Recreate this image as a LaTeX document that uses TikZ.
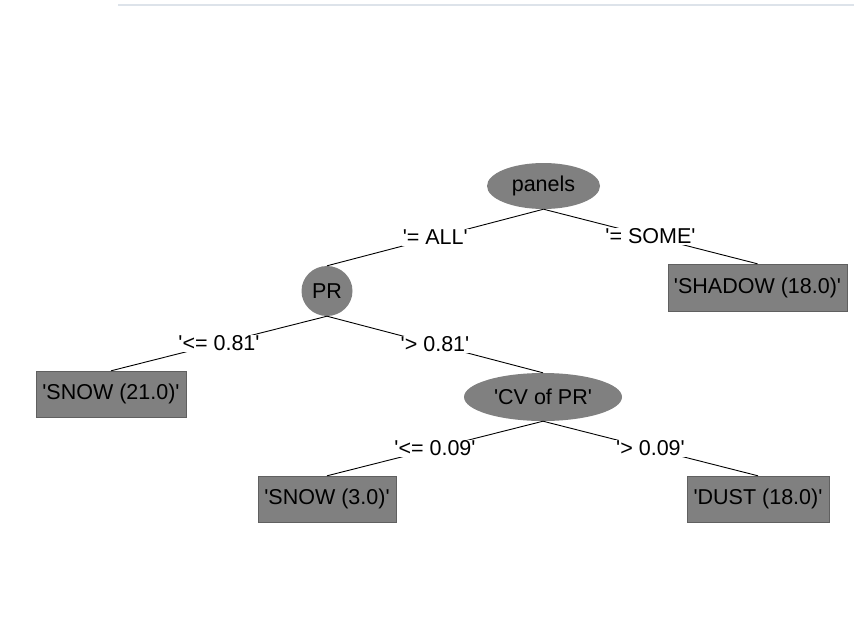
\documentclass[tikz,border=0pt]{standalone}
\usepackage{fontspec}
\setmainfont{Liberation Sans}
\usetikzlibrary{shapes.geometric}
\definecolor{nodegray}{RGB}{128,128,128}
\definecolor{rulegray}{RGB}{221,227,234}
\newcommand{\sq}{\textquotesingle}

\tikzset{
    split/.style={ellipse, fill=nodegray, inner sep=0pt},
    leaf/.style={rectangle, fill=nodegray, draw=nodegray!75!black, inner sep=0pt},
    branch/.style={fill=white, inner sep=1pt},
    edge/.style={black, line width=0.9pt}
}

\begin{document}
\begin{tikzpicture}[x=1pt, y=-1pt, font=\fontsize{21.5}{25}\selectfont]
                \useasboundingbox (0, 0) rectangle (854, 635);
                \draw[rulegray, line width=2pt](118, 5)--(854, 5);

                % inner nodes
                \node[split, minimum width=113pt, minimum height=46pt](panels) at (543.5, 186){panels};
                \node[split, minimum width=51pt, minimum height=50pt](pr) at (327, 291){PR};
                \node[split, minimum width=158pt, minimum height=48pt](cv) at (543, 397){\sq CV of PR\sq};

                % leaves
                \node[leaf, minimum width=179pt, minimum height=47pt](shadow) at (757.5, 287.5){\sq SHADOW (18.0)\sq};
                \node[leaf, minimum width=150pt, minimum height=46pt](snowa) at (111, 394){\sq SNOW (21.0)\sq};
                \node[leaf, minimum width=138pt, minimum height=46pt](snowb) at (327, 499){\sq SNOW (3.0)\sq};
                \node[leaf, minimum width=142pt, minimum height=46pt](dust) at (758, 499){\sq DUST (18.0)\sq};

                \draw[edge](panels.south)--node[branch]{\sq= ALL\sq}(pr.north);
                \draw[edge](panels.south)--node[branch]{\sq= SOME\sq}(shadow.north);
                \draw[edge](pr.south)--node[branch]{\sq<= 0.81\sq}(snowa.north);
                \draw[edge](pr.south)--node[branch]{\sq> 0.81\sq}(cv.north);
                \draw[edge](cv.south)--node[branch]{\sq<= 0.09\sq}(snowb.north);
                \draw[edge](cv.south)--node[branch]{\sq> 0.09\sq}(dust.north);
            \end{tikzpicture}
\end{document}
